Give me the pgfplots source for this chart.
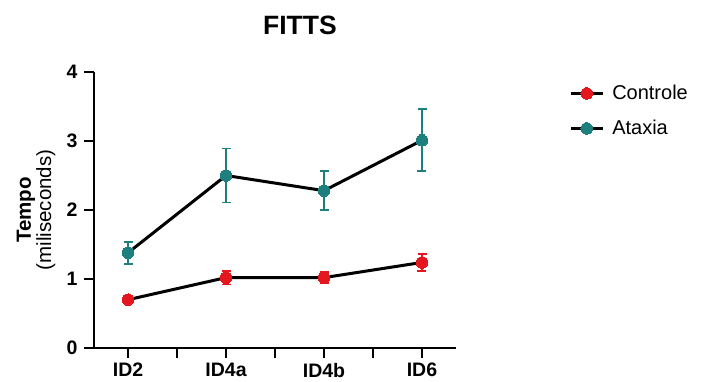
\documentclass[border=0pt]{standalone}
\usepackage{pgfplots}
\pgfplotsset{compat=1.18}
\usepackage{fontspec}
\setmainfont{Liberation Sans}
\definecolor{cred}{RGB}{228,22,30}
\definecolor{cteal}{RGB}{30,128,126}
\begin{document}
\begin{tikzpicture}
\path[use as bounding box] (0,0) rectangle (703pt,382pt);
\begin{axis}[
  at={(94pt,34pt)}, anchor=south west,
  scale only axis, width=362pt, height=276pt,
  xmin=-0.347, xmax=3.347, ymin=0, ymax=4,
  axis x line*=bottom, axis y line*=left,
  x axis line style={line width=2.8pt, -},
  y axis line style={line width=2.8pt, -},
  xtick={0,1,2,3}, xticklabels={ID2,ID4a,ID4b,ID6},
  minor xtick={0.5,1.5,2.5},
  ytick={0,1,2,3,4}, yticklabels={0,1,2,3,4},
  tick align=outside,
  major tick length=10pt, minor tick length=10pt,
  every tick/.style={line width=2.8pt, black},
  major tick style={line width=2.8pt, black},
  minor tick style={line width=2.8pt, black},
  every tick label/.append style={font=\fontsize{19.5}{21}\selectfont\bfseries},
  xticklabel style={yshift=-1.5pt},
  yticklabel style={xshift=-3pt},
  title={\fontsize{26.5}{28}\selectfont\bfseries FITTS},
  title style={at={(axis description cs:0.569,1)}, anchor=base, yshift=31pt},
  ylabel={\fontsize{20.5}{24}\selectfont\textbf{Tempo}\\\fontsize{20.5}{24}\selectfont(miliseconds)},
  ylabel style={align=center, at={(axis description cs:-0.16,0.5)}, anchor=center},
  legend style={draw=none, fill=none, at={(axis description cs:1.304,0.859)}, anchor=west,
    font=\fontsize{20}{22}\selectfont, legend cell align=left, row sep=15pt,
    /tikz/every odd column/.append style={column sep=6pt}},
  legend image code/.code={\draw[mark repeat=2,mark phase=2,#1] plot coordinates {(0pt,0pt) (16pt,0pt) (32pt,0pt)};},
  clip=false,
]
\addplot[black, line width=3pt, mark=*, mark size=5.8pt,
  mark options={fill=cred, draw=cred, line width=0pt},
  error bars/.cd, y dir=both, y explicit,
  error bar style={cred, line width=1.8pt}, error mark options={rotate=90, mark size=4.5pt, line width=1.8pt, cred}]
  coordinates {(0,0.70) +- (0,0.03) (1,1.02) +- (0,0.10) (2,1.02) +- (0,0.08) (3,1.24) +- (0,0.12)};
\addlegendentry{Controle}
\addplot[black, line width=3pt, mark=*, mark size=5.8pt,
  mark options={fill=cteal, draw=cteal, line width=0pt},
  error bars/.cd, y dir=both, y explicit,
  error bar style={cteal, line width=1.8pt}, error mark options={rotate=90, mark size=4.5pt, line width=1.8pt, cteal}]
  coordinates {(0,1.38) +- (0,0.16) (1,2.50) +- (0,0.39) (2,2.28) +- (0,0.28) (3,3.01) +- (0,0.45)};
\addlegendentry{Ataxia}
\end{axis}
\end{tikzpicture}
\end{document}
